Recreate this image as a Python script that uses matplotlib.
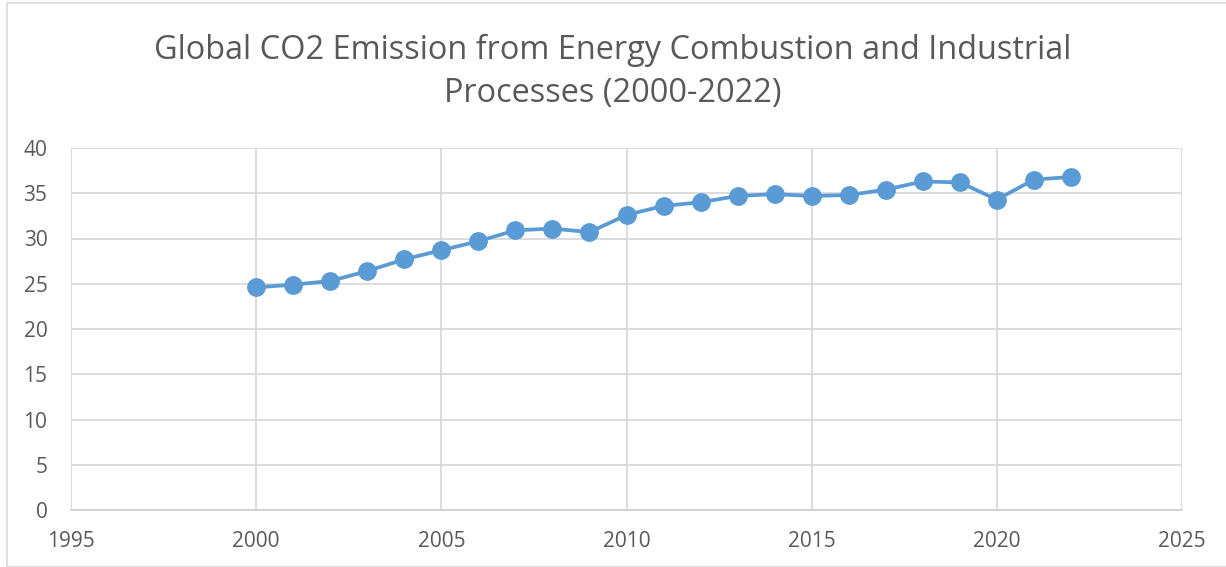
import matplotlib
matplotlib.use("Agg")
import matplotlib.pyplot as plt
from matplotlib.patches import Rectangle

years = list(range(2000, 2023))
emissions = [24.6, 24.9, 25.3, 26.4, 27.7, 28.7, 29.7, 30.9, 31.1, 30.7,
             32.6, 33.6, 34.0, 34.7, 34.9, 34.7, 34.8, 35.4, 36.3, 36.2,
             34.3, 36.5, 36.8]
x_ticks = [1995, 2000, 2005, 2010, 2015, 2020, 2025]
y_ticks = [0, 5, 10, 15, 20, 25, 30, 35, 40]
title = "Global CO2 Emission from Energy Combustion and Industrial\nProcesses (2000-2022)"

plt.rcParams['font.family'] = ['Open Sans', 'DejaVu Sans']

fig = plt.figure(figsize=(12.26, 5.67), dpi=100)
ax = fig.add_axes([71/1226, 1-510/567, (1182-71)/1226, (510-148)/567])

ax.plot(years, emissions, color='#5B9BD5', linewidth=2.7, marker='o',
        markersize=12.5, zorder=3)

ax.set_xlim(1995, 2025)
ax.set_ylim(0, 40)
ax.set_xticks(x_ticks)
ax.set_yticks(y_ticks)
ax.grid(True, color='#D9D9D9', linewidth=1.3)
ax.set_axisbelow(True)
for s in ['top', 'right', 'left']:
    ax.spines[s].set_visible(False)
ax.spines['bottom'].set_color('#D0D0D0')
ax.spines['bottom'].set_linewidth(1.3)
ax.tick_params(length=0, labelsize=15, colors='#595959')
ax.tick_params(axis='x', pad=15)
ax.tick_params(axis='y', pad=17)

fig.text(0.5, 1-72/567, title, ha='center', va='center', fontsize=23.4,
         color='#595959', linespacing=1.4)

fig.patches.append(Rectangle((7/1226, 0), 1.0, 1-3/567, transform=fig.transFigure,
                             fill=False, edgecolor='#D9D9D9', linewidth=1.2))

fig.savefig('out.png', dpi=100)
